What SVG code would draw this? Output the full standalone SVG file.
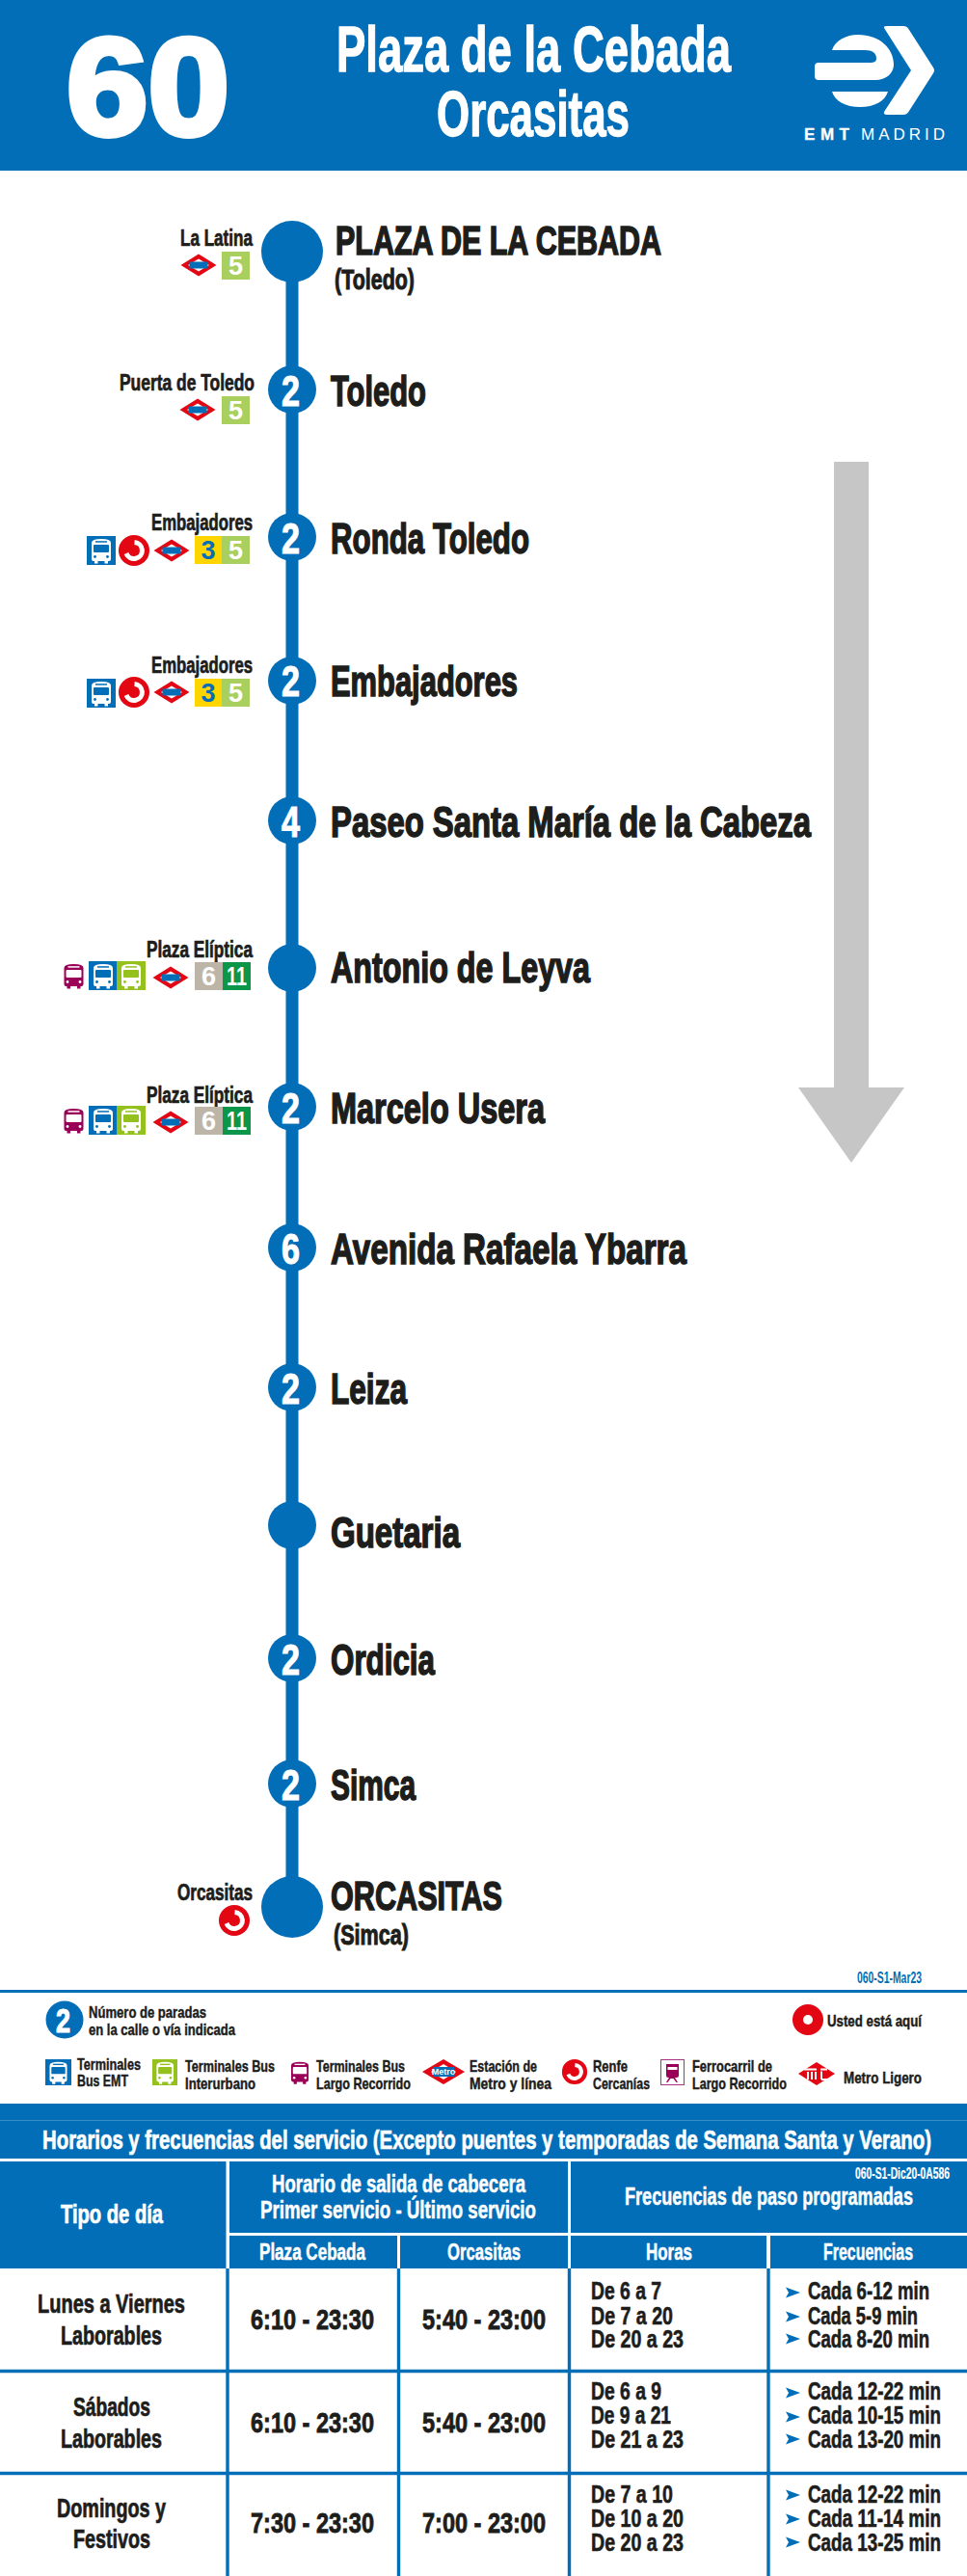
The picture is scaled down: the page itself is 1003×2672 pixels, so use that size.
<svg xmlns="http://www.w3.org/2000/svg" width="1003" height="2672" viewBox="0 0 1003 2672">
<style>
text{font-family:"Liberation Sans Narrow","Liberation Sans",Arial,sans-serif;font-weight:700;fill:#1d1d1b;stroke:#1d1d1b;stroke-width:.5}
.w{fill:#fff;stroke:#fff}
.nm{font-size:45px;stroke-width:1.6}
.num{font-size:45px;fill:#fff;stroke:#fff;stroke-width:1.1}
.lab{font-size:23px;stroke-width:.7}
.sub{font-size:29px;stroke-width:1}
.lg{font-size:17px;stroke-width:.45}
.hd{font-size:26px;stroke-width:.5}
.sh{font-size:24px;stroke-width:.5}
.tb{font-size:27px;stroke-width:.7}
.tm{font-size:29px;stroke-width:.8}
.fr{font-size:25px;stroke-width:.6}
.dig{font-family:"Liberation Sans",Arial,sans-serif;font-size:27px;text-anchor:middle;stroke:none}
.line{stroke:#036eb8;stroke-width:13;fill:none}
.st{fill:#036eb8}
.blue{fill:#036eb8}
.lime{fill:#95c11f}
.gr5{fill:#a9cf5f}
.yel{fill:#ffd500}
.gry{fill:#bdb6a8}
.grn{fill:#0b964a}
.rule{stroke:#036eb8;stroke-width:3.4;fill:none}
</style>
<defs>
<g id="bus">
<path d="M5 7q0-4 10-4t10 4v17q0 2-2 2h-1v2.500h-3.500v-2.500h-7v2.500h-3.500v-2.500h-1q-2 0-2-2z" fill="currentColor"/>
<rect x="7" y="9" width="16" height="8" rx="1" style="fill:var(--w)"/>
<rect x="9" y="5.200" width="12" height="1.500" style="fill:var(--w)"/>
<circle cx="8.500" cy="21.500" r="1.400" style="fill:var(--w)"/>
<circle cx="21.500" cy="21.500" r="1.400" style="fill:var(--w)"/>
</g>
<g id="metro">
<polygon points="0,-11.500 18.500,0 0,11.500 -18.500,0" fill="#e30613"/>
<polygon points="0,-6.500 11,0 0,6.500 -11,0" fill="#fff"/>
<rect x="-9.500" y="-3.500" width="19" height="7" fill="#036eb8"/>
</g>
<g id="renfe">
<circle r="16" fill="#e30613"/>
<path d="M0.500 -8.500A8.500 8.500 0 1 1 -8 3" fill="none" stroke="#fff" stroke-width="5"/>
</g>
<g id="arrowhead"><polygon points="0,-5.500 15,0 0,5.500 3,0" fill="#036eb8"/></g>
</defs>

<g id="header">
<rect width="1003" height="177" fill="#036eb8"/>
<text x="69" y="140" class="w" font-size="142" textLength="169" lengthAdjust="spacingAndGlyphs" style="font-family:'Liberation Sans',Arial,sans-serif;stroke-width:6">60</text>
<text x="349" y="74" class="w" font-size="66" textLength="409" lengthAdjust="spacingAndGlyphs" style="stroke-width:1.3">Plaza de la Cebada</text>
<text x="453" y="141" class="w" font-size="66" textLength="200" lengthAdjust="spacingAndGlyphs" style="stroke-width:1.3">Orcasitas</text>
</g>
<g id="logo">
<path d="M917 29Q916 27 920 27H937Q941 27 943 31L968 70Q970 73 968 76L943 115Q941 119 937 119H920Q916 119 917 116L945 73Z" fill="#fff"/>
<path d="M863 52C866 42 878 36 890 36C912 36 927 50 927 67C927 76 919 83 908 83H849Q845 83 845 79V69Q845 65 849 65H903Q909 65 909 61Q909 52 897 52Z" fill="#fff"/>
<path d="M863 95H921C918 105 907 111 892 111C877 111 866 105 863 95Z" fill="#fff"/>
<text x="834" y="145" font-size="17" class="w" textLength="47" lengthAdjust="spacing" style="font-family:'Liberation Sans',Arial,sans-serif;stroke-width:.3">EMT</text>
<text x="893" y="145" font-size="17" class="w" textLength="87" lengthAdjust="spacing" style="font-family:'Liberation Sans',Arial,sans-serif;font-weight:400;stroke:none">MADRID</text>
</g>

<g id="connectors">
<line class="line" x1="303" y1="261" x2="303" y2="404"/>
<line class="line" x1="303" y1="404" x2="303" y2="557"/>
<line class="line" x1="303" y1="557" x2="303" y2="706"/>
<line class="line" x1="303" y1="706" x2="303" y2="851"/>
<line class="line" x1="303" y1="851" x2="303" y2="1004"/>
<line class="line" x1="303" y1="1004" x2="303" y2="1148"/>
<line class="line" x1="303" y1="1148" x2="303" y2="1294"/>
<line class="line" x1="303" y1="1294" x2="303" y2="1439"/>
<line class="line" x1="303" y1="1439" x2="303" y2="1582"/>
<line class="line" x1="303" y1="1582" x2="303" y2="1720"/>
<line class="line" x1="303" y1="1720" x2="303" y2="1850"/>
<line class="line" x1="303" y1="1850" x2="303" y2="1978"/>
</g>

<g id="direction-arrow"><polygon points="865,479 901,479 901,1128 938,1128 883,1206 828,1128 865,1128" fill="#c6c6c6"/></g>

<g id="stop-plaza-cebada">
<circle class="st" cx="303" cy="261" r="32"/>
<text class="nm" x="348" y="264" style="font-size:43px" textLength="338" lengthAdjust="spacingAndGlyphs">PLAZA DE LA CEBADA</text>
<text class="sub" x="347" y="300" textLength="83" lengthAdjust="spacingAndGlyphs">(Toledo)</text>
<text class="lab" x="187" y="255" textLength="75" lengthAdjust="spacingAndGlyphs">La Latina</text>
<use href="#metro" x="206" y="275"/>
<rect class="gr5" x="230" y="261" width="29" height="29"/><text class="dig w" x="244.500" y="285" style="stroke:none">5</text>
</g>
<g id="stop-toledo">
<circle class="st" cx="303" cy="404" r="25"/>
<text class="num" x="292" y="421" textLength="19" lengthAdjust="spacingAndGlyphs">2</text>
<text class="nm" x="343" y="421" textLength="99" lengthAdjust="spacingAndGlyphs">Toledo</text>
<text class="lab" x="124" y="405" textLength="140" lengthAdjust="spacingAndGlyphs">Puerta de Toledo</text>
<use href="#metro" x="205" y="425"/>
<rect class="gr5" x="230" y="411" width="29" height="29"/><text class="dig w" x="244.500" y="435" style="stroke:none">5</text>
</g>
<g id="stop-ronda-toledo">
<circle class="st" cx="303" cy="557" r="25"/>
<text class="num" x="292" y="574" textLength="19" lengthAdjust="spacingAndGlyphs">2</text>
<text class="nm" x="343" y="574" textLength="206" lengthAdjust="spacingAndGlyphs">Ronda Toledo</text>
<text class="lab" x="157" y="550" textLength="105" lengthAdjust="spacingAndGlyphs">Embajadores</text>
<rect class="blue" x="90" y="556" width="30" height="30"/>
<use href="#bus" x="90" y="556" style="color:#fff;--w:#036eb8"/>
<use href="#renfe" x="139" y="571"/>
<use href="#metro" x="178" y="571"/>
<rect class="yel" x="202" y="556" width="28" height="29"/><text class="dig" x="216" y="580" style="fill:#036eb8">3</text>
<rect class="gr5" x="230" y="556" width="29" height="29"/><text class="dig w" x="244.500" y="580" style="stroke:none">5</text>
</g>
<g id="stop-embajadores">
<circle class="st" cx="303" cy="706" r="25"/>
<text class="num" x="292" y="722" textLength="19" lengthAdjust="spacingAndGlyphs">2</text>
<text class="nm" x="343" y="722" textLength="194" lengthAdjust="spacingAndGlyphs">Embajadores</text>
<text class="lab" x="157" y="698" textLength="105" lengthAdjust="spacingAndGlyphs">Embajadores</text>
<rect class="blue" x="90" y="704" width="30" height="30"/>
<use href="#bus" x="90" y="704" style="color:#fff;--w:#036eb8"/>
<use href="#renfe" x="139" y="718"/>
<use href="#metro" x="178" y="718"/>
<rect class="yel" x="202" y="704" width="28" height="29"/><text class="dig" x="216" y="728" style="fill:#036eb8">3</text>
<rect class="gr5" x="230" y="704" width="29" height="29"/><text class="dig w" x="244.500" y="728" style="stroke:none">5</text>
</g>
<g id="stop-paseo-santa-maria">
<circle class="st" cx="303" cy="851" r="25"/>
<text class="num" x="292" y="868" textLength="19" lengthAdjust="spacingAndGlyphs">4</text>
<text class="nm" x="343" y="868" textLength="498" lengthAdjust="spacingAndGlyphs">Paseo Santa María de la Cabeza</text>
</g>
<g id="stop-antonio-de-leyva">
<circle class="st" cx="303" cy="1004" r="25"/>
<text class="nm" x="343" y="1019" textLength="269" lengthAdjust="spacingAndGlyphs">Antonio de Leyva</text>
<text class="lab" x="152" y="993" textLength="110" lengthAdjust="spacingAndGlyphs">Plaza Elíptica</text>
<use href="#bus" x="61.500" y="997" style="color:#9b0058;--w:#fff"/>
<rect class="blue" x="92" y="997" width="29" height="30"/>
<use href="#bus" x="92" y="997" style="color:#fff;--w:#036eb8"/>
<rect class="lime" x="121" y="997" width="30" height="30"/>
<use href="#bus" x="121" y="997" style="color:#fff;--w:#95c11f"/>
<use href="#metro" x="177" y="1014"/>
<rect class="gry" x="202" y="998" width="29" height="29"/><text class="dig w" x="216.500" y="1022" style="stroke:none">6</text>
<rect class="grn" x="231" y="998" width="29" height="29"/><text class="dig w" x="245.500" y="1022" textLength="21" lengthAdjust="spacingAndGlyphs" style="stroke:none">11</text>
</g>
<g id="stop-marcelo-usera">
<circle class="st" cx="303" cy="1148" r="25"/>
<text class="num" x="292" y="1165" textLength="19" lengthAdjust="spacingAndGlyphs">2</text>
<text class="nm" x="343" y="1165" textLength="222" lengthAdjust="spacingAndGlyphs">Marcelo Usera</text>
<text class="lab" x="152" y="1144" textLength="110" lengthAdjust="spacingAndGlyphs">Plaza Elíptica</text>
<use href="#bus" x="61.500" y="1147" style="color:#9b0058;--w:#fff"/>
<rect class="blue" x="92" y="1147" width="29" height="30"/>
<use href="#bus" x="92" y="1147" style="color:#fff;--w:#036eb8"/>
<rect class="lime" x="121" y="1147" width="30" height="30"/>
<use href="#bus" x="121" y="1147" style="color:#fff;--w:#95c11f"/>
<use href="#metro" x="177" y="1164"/>
<rect class="gry" x="202" y="1148" width="29" height="29"/><text class="dig w" x="216.500" y="1172" style="stroke:none">6</text>
<rect class="grn" x="231" y="1148" width="29" height="29"/><text class="dig w" x="245.500" y="1172" textLength="21" lengthAdjust="spacingAndGlyphs" style="stroke:none">11</text>
</g>
<g id="stop-rafaela-ybarra">
<circle class="st" cx="303" cy="1294" r="25"/>
<text class="num" x="292" y="1311" textLength="19" lengthAdjust="spacingAndGlyphs">6</text>
<text class="nm" x="343" y="1311" textLength="369" lengthAdjust="spacingAndGlyphs">Avenida Rafaela Ybarra</text>
</g>
<g id="stop-leiza">
<circle class="st" cx="303" cy="1439" r="25"/>
<text class="num" x="292" y="1456" textLength="19" lengthAdjust="spacingAndGlyphs">2</text>
<text class="nm" x="343" y="1456" textLength="79" lengthAdjust="spacingAndGlyphs">Leiza</text>
</g>
<g id="stop-guetaria">
<circle class="st" cx="303" cy="1582" r="25"/>
<text class="nm" x="343" y="1605" textLength="134" lengthAdjust="spacingAndGlyphs">Guetaria</text>
</g>
<g id="stop-ordicia">
<circle class="st" cx="303" cy="1720" r="25"/>
<text class="num" x="292" y="1737" textLength="19" lengthAdjust="spacingAndGlyphs">2</text>
<text class="nm" x="343" y="1737" textLength="108" lengthAdjust="spacingAndGlyphs">Ordicia</text>
</g>
<g id="stop-simca">
<circle class="st" cx="303" cy="1850" r="25"/>
<text class="num" x="292" y="1867" textLength="19" lengthAdjust="spacingAndGlyphs">2</text>
<text class="nm" x="343" y="1867" textLength="88" lengthAdjust="spacingAndGlyphs">Simca</text>
</g>
<g id="stop-orcasitas">
<circle class="st" cx="303" cy="1978" r="32"/>
<text class="nm" x="343" y="1981" style="font-size:43px" textLength="178" lengthAdjust="spacingAndGlyphs">ORCASITAS</text>
<text class="sub" x="346" y="2017" textLength="78" lengthAdjust="spacingAndGlyphs">(Simca)</text>
<text class="lab" x="184" y="1971" textLength="78" lengthAdjust="spacingAndGlyphs">Orcasitas</text>
<use href="#renfe" x="243" y="1992"/>
</g>

<g id="legend">
<text x="889" y="2057" font-size="16" textLength="67" lengthAdjust="spacingAndGlyphs" style="fill:#036eb8;stroke:none">060-S1-Mar23</text>
<rect x="0" y="2064" width="1003" height="3" fill="#036eb8"/>
<circle class="st" cx="67" cy="2095" r="19.500"/>
<text class="num" x="58" y="2108" style="font-size:35px" textLength="15" lengthAdjust="spacingAndGlyphs">2</text>
<text class="lg" x="92" y="2093" textLength="122" lengthAdjust="spacingAndGlyphs">Número de paradas</text>
<text class="lg" x="92" y="2111" textLength="152" lengthAdjust="spacingAndGlyphs">en la calle o vía indicada</text>
<circle cx="838" cy="2095" r="16" fill="#e30613"/><circle cx="838" cy="2095" r="5" fill="#fff"/>
<text class="lg" x="858" y="2102" textLength="98" lengthAdjust="spacingAndGlyphs">Usted está aquí</text>
<rect class="blue" x="47" y="2136" width="27" height="27"/>
<use href="#bus" transform="translate(47 2136) scale(.9)" style="color:#fff;--w:#036eb8"/>
<text class="lg" x="80" y="2147" textLength="66" lengthAdjust="spacingAndGlyphs">Terminales</text>
<text class="lg" x="80" y="2164" textLength="53" lengthAdjust="spacingAndGlyphs">Bus EMT</text>
<rect class="lime" x="158" y="2136" width="26" height="27"/>
<use href="#bus" transform="translate(158 2136) scale(.88 .9)" style="color:#fff;--w:#95c11f"/>
<text class="lg" x="192" y="2149" textLength="93" lengthAdjust="spacingAndGlyphs">Terminales Bus</text>
<text class="lg" x="192" y="2167" textLength="73" lengthAdjust="spacingAndGlyphs">Interurbano</text>
<use href="#bus" transform="translate(297.500 2136) scale(.9)" style="color:#9b0058;--w:#fff"/>
<text class="lg" x="328" y="2149" textLength="92" lengthAdjust="spacingAndGlyphs">Terminales Bus</text>
<text class="lg" x="328" y="2167" textLength="98" lengthAdjust="spacingAndGlyphs">Largo Recorrido</text>
<polygon points="460,2136 482,2149 460,2162 438,2149" fill="#e30613"/>
<polygon points="460,2141 473,2149 460,2157 447,2149" fill="#fff"/>
<rect x="449" y="2144" width="22" height="10" fill="#036eb8"/>
<text x="460" y="2152" font-size="9" text-anchor="middle" class="w" style="stroke:none;font-family:'Liberation Sans',Arial,sans-serif">Metro</text>
<text class="lg" x="487" y="2149" textLength="70" lengthAdjust="spacingAndGlyphs">Estación de</text>
<text class="lg" x="487" y="2167" textLength="85" lengthAdjust="spacingAndGlyphs">Metro y línea</text>
<use href="#renfe" transform="translate(596 2149) scale(.82)"/>
<text class="lg" x="615" y="2149" textLength="36" lengthAdjust="spacingAndGlyphs">Renfe</text>
<text class="lg" x="615" y="2167" textLength="59" lengthAdjust="spacingAndGlyphs">Cercanías</text>
<rect x="685.500" y="2136.500" width="24" height="26" fill="#fff" stroke="#a8327f" stroke-width="1"/>
<path d="M691 2141h13v12q0 2-2 2h-9q-2 0-2-2zM694 2155l-3 5h1.500l3-4h3l3 4h1.500l-3-5z" fill="#9b0058"/>
<rect x="692.500" y="2144" width="10" height="3" fill="#fff"/>
<text class="lg" x="718" y="2149" textLength="83" lengthAdjust="spacingAndGlyphs">Ferrocarril de</text>
<text class="lg" x="718" y="2167" textLength="98" lengthAdjust="spacingAndGlyphs">Largo Recorrido</text>
<polygon points="847,2139 866,2151 847,2163 828,2151" fill="#e30613"/>
<path d="M834 2146.500h13m4 0h7M838 2157v-8m4 8v-8m4 8v-8m6 8v-8.500m0 8.500h9" fill="none" stroke="#fff" stroke-width="2"/>
<text class="lg" x="875" y="2161" textLength="81" lengthAdjust="spacingAndGlyphs">Metro Ligero</text>
</g>

<g id="timetable">
<rect x="0" y="2182" width="1003" height="57" fill="#036eb8"/>
<line x1="0" y1="2199.500" x2="1003" y2="2199.500" stroke="#3d8cc6" stroke-width="1"/>
<text class="w" x="44" y="2229" font-size="28" textLength="922" lengthAdjust="spacingAndGlyphs" style="stroke-width:.7">Horarios y frecuencias del servicio (Excepto puentes y temporadas de Semana Santa y Verano)</text>
<rect class="blue" x="0" y="2242" width="234.500" height="111"/>
<rect class="blue" x="238" y="2242" width="351" height="74"/>
<rect class="blue" x="592" y="2242" width="411" height="74"/>
<rect class="blue" x="238" y="2319" width="174" height="34"/>
<rect class="blue" x="415" y="2319" width="174" height="34"/>
<rect class="blue" x="592" y="2319" width="203" height="34"/>
<rect class="blue" x="799" y="2319" width="204" height="34"/>
<line class="rule" x1="236" y1="2353" x2="236" y2="2672"/>
<line class="rule" x1="413.500" y1="2353" x2="413.500" y2="2672"/>
<line class="rule" x1="590.500" y1="2353" x2="590.500" y2="2672"/>
<line class="rule" x1="797" y1="2353" x2="797" y2="2672"/>
<line class="rule" x1="0" y1="2459.500" x2="1003" y2="2459.500"/>
<line class="rule" x1="0" y1="2565.500" x2="1003" y2="2565.500"/>
<text class="tb w" x="63" y="2306" textLength="106" lengthAdjust="spacingAndGlyphs">Tipo de día</text>
<text class="hd w" x="282" y="2274" textLength="263" lengthAdjust="spacingAndGlyphs">Horario de salida de cabecera</text>
<text class="hd w" x="270" y="2301" textLength="286" lengthAdjust="spacingAndGlyphs">Primer servicio - Último servicio</text>
<text class="sh w" x="269" y="2344" textLength="110" lengthAdjust="spacingAndGlyphs">Plaza Cebada</text>
<text class="sh w" x="464" y="2344" textLength="76" lengthAdjust="spacingAndGlyphs">Orcasitas</text>
<text class="w" x="887" y="2260" font-size="16" textLength="98" lengthAdjust="spacingAndGlyphs" style="stroke-width:.2">060-S1-Dic20-0A586</text>
<text class="hd w" x="648" y="2287" textLength="299" lengthAdjust="spacingAndGlyphs">Frecuencias de paso programadas</text>
<text class="sh w" x="670" y="2344" textLength="48" lengthAdjust="spacingAndGlyphs">Horas</text>
<text class="sh w" x="854" y="2344" textLength="93" lengthAdjust="spacingAndGlyphs">Frecuencias</text>

<text class="tb" x="39" y="2399" textLength="153" lengthAdjust="spacingAndGlyphs">Lunes a Viernes</text>
<text class="tb" x="63" y="2432" textLength="105" lengthAdjust="spacingAndGlyphs">Laborables</text>
<text class="tm" x="260" y="2416" textLength="128" lengthAdjust="spacingAndGlyphs">6:10 - 23:30</text>
<text class="tm" x="438" y="2416" textLength="128" lengthAdjust="spacingAndGlyphs">5:40 - 23:00</text>
<text class="fr" x="613" y="2385" textLength="73" lengthAdjust="spacingAndGlyphs">De 6 a 7</text>
<text class="fr" x="613" y="2411" textLength="85" lengthAdjust="spacingAndGlyphs">De 7 a 20</text>
<text class="fr" x="613" y="2435" textLength="96" lengthAdjust="spacingAndGlyphs">De 20 a 23</text>
<use href="#arrowhead" x="815" y="2378"/><text class="fr" x="838" y="2385" textLength="126" lengthAdjust="spacingAndGlyphs">Cada 6-12 min</text>
<use href="#arrowhead" x="815" y="2403"/><text class="fr" x="838" y="2411" textLength="114" lengthAdjust="spacingAndGlyphs">Cada 5-9 min</text>
<use href="#arrowhead" x="815" y="2426"/><text class="fr" x="838" y="2435" textLength="126" lengthAdjust="spacingAndGlyphs">Cada 8-20 min</text>

<text class="tb" x="76" y="2506" textLength="80" lengthAdjust="spacingAndGlyphs">Sábados</text>
<text class="tb" x="63" y="2539" textLength="105" lengthAdjust="spacingAndGlyphs">Laborables</text>
<text class="tm" x="260" y="2523" textLength="128" lengthAdjust="spacingAndGlyphs">6:10 - 23:30</text>
<text class="tm" x="438" y="2523" textLength="128" lengthAdjust="spacingAndGlyphs">5:40 - 23:00</text>
<text class="fr" x="613" y="2489" textLength="73" lengthAdjust="spacingAndGlyphs">De 6 a 9</text>
<text class="fr" x="613" y="2514" textLength="83" lengthAdjust="spacingAndGlyphs">De 9 a 21</text>
<text class="fr" x="613" y="2539" textLength="96" lengthAdjust="spacingAndGlyphs">De 21 a 23</text>
<use href="#arrowhead" x="815" y="2482"/><text class="fr" x="838" y="2489" textLength="138" lengthAdjust="spacingAndGlyphs">Cada 12-22 min</text>
<use href="#arrowhead" x="815" y="2507"/><text class="fr" x="838" y="2514" textLength="138" lengthAdjust="spacingAndGlyphs">Cada 10-15 min</text>
<use href="#arrowhead" x="815" y="2530"/><text class="fr" x="838" y="2539" textLength="138" lengthAdjust="spacingAndGlyphs">Cada 13-20 min</text>

<text class="tb" x="59" y="2611" textLength="113" lengthAdjust="spacingAndGlyphs">Domingos y</text>
<text class="tb" x="76" y="2643" textLength="80" lengthAdjust="spacingAndGlyphs">Festivos</text>
<text class="tm" x="260" y="2627" textLength="128" lengthAdjust="spacingAndGlyphs">7:30 - 23:30</text>
<text class="tm" x="438" y="2627" textLength="128" lengthAdjust="spacingAndGlyphs">7:00 - 23:00</text>
<text class="fr" x="613" y="2596" textLength="85" lengthAdjust="spacingAndGlyphs">De 7 a 10</text>
<text class="fr" x="613" y="2621" textLength="96" lengthAdjust="spacingAndGlyphs">De 10 a 20</text>
<text class="fr" x="613" y="2646" textLength="96" lengthAdjust="spacingAndGlyphs">De 20 a 23</text>
<use href="#arrowhead" x="815" y="2588"/><text class="fr" x="838" y="2596" textLength="138" lengthAdjust="spacingAndGlyphs">Cada 12-22 min</text>
<use href="#arrowhead" x="815" y="2613"/><text class="fr" x="838" y="2621" textLength="138" lengthAdjust="spacingAndGlyphs">Cada 11-14 min</text>
<use href="#arrowhead" x="815" y="2637"/><text class="fr" x="838" y="2646" textLength="138" lengthAdjust="spacingAndGlyphs">Cada 13-25 min</text>
</g>
</svg>
